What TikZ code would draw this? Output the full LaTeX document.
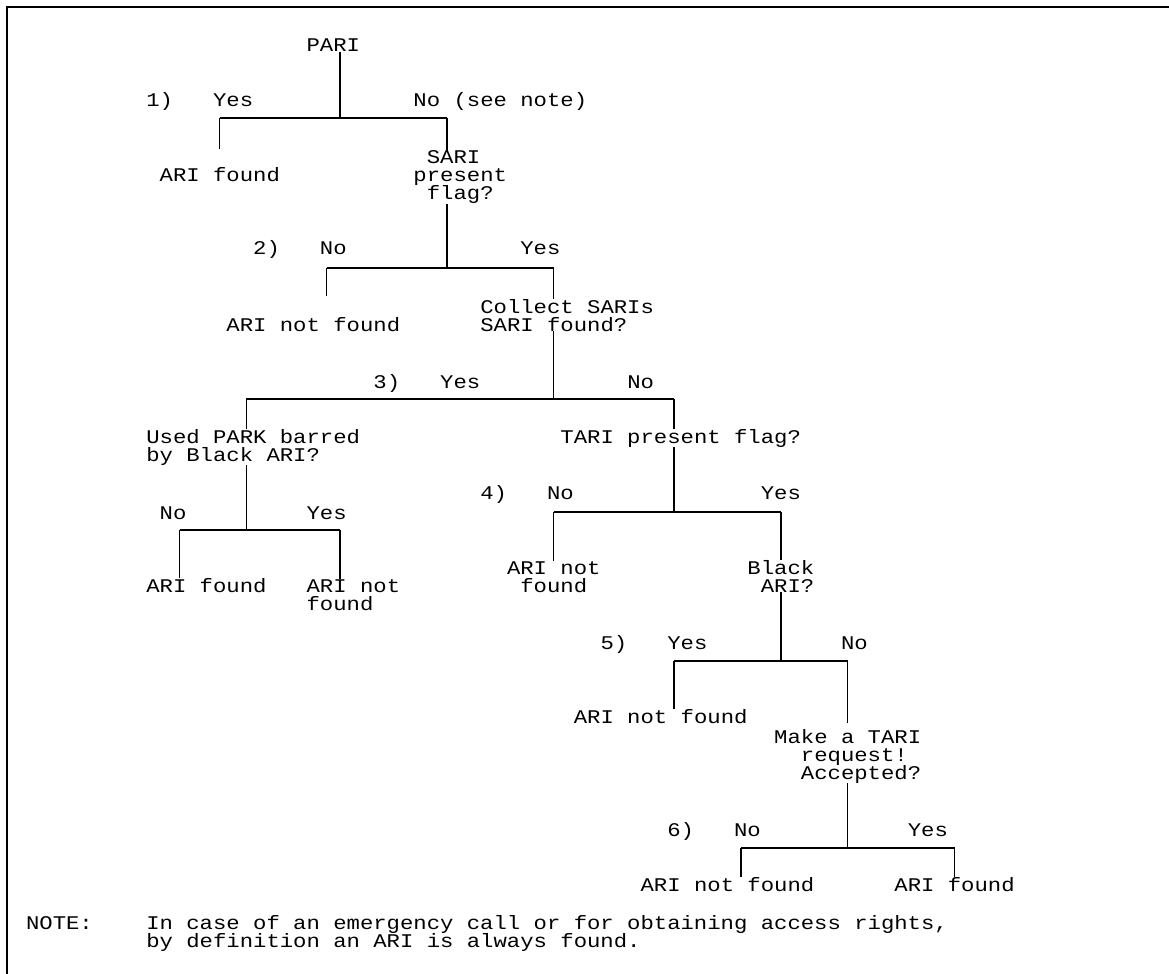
\documentclass[tikz,border=0pt]{standalone}
\usepackage{fontspec}
\setmonofont[FakeStretch=1.15]{Liberation Mono}
\newcommand\arifont{\ttfamily\fontsize{9.68}{9}\selectfont\lineskiplimit -20pt\relax}
\tikzset{
  txt/.style={font=\arifont, inner sep=0pt, outer sep=0pt, anchor=base west, align=left},
  tree/.style={line width=0.7pt},
  frame/.style={line width=0.9pt}
}
\begin{document}
\begin{tikzpicture}[x=6.68pt,y=-0.5pt]
\useasboundingbox (0,0) rectangle (87.5,974);
\draw[frame] (0.52,974) |- (87.5,7);
\begin{scope}[shift={(1.95,0)}]
% decisions and results (base = last line)
\node[txt] (pari) at (21,52) {PARI};
\node[txt] (found1) at (10,182) {ARI found};
\node[txt] (sariflag) at (29,200) {\ SARI\\present\\\ flag?};
\node[txt] (notfound2) at (15,331) {ARI not found};
\node[txt] (collect) at (34,331) {Collect SARIs\\SARI found?};
\node[txt] (parkbar) at (9,461) {Used PARK barred\\by Black ARI?};
\node[txt] (tariflag) at (40,443) {TARI present flag?};
\node[txt] (foundp) at (9,592) {ARI found};
\node[txt] (notfoundp) at (21,610) {ARI not\\found};
\node[txt] (notfound4) at (36,592) {ARI not\\\ found};
\node[txt] (blackari) at (54,592) {Black\\\ ARI?};
\node[txt] (notfound5) at (41,723) {ARI not found};
\node[txt] (tarireq) at (56,779) {Make a TARI\\\ \ request!\\\ \ Accepted?};
\node[txt] (notfound6) at (46,891) {ARI not found};
\node[txt] (found6) at (65,891) {ARI found};
\node[txt] (note) at (0,929) {NOTE:};
\node[txt] (notetext) at (9,947) {In case of an emergency call or for obtaining access rights,\\by definition an ARI is always found.};
% branch labels
\foreach \name/\c/\y/\t in {num1/9/107/1), yes1/14/107/Yes, no1/29/107/{No (see note)},
    num2/17/255/2), no2/22/255/No, yes2/37/255/Yes,
    num3/26/388/3), yes3/31/388/Yes, no3/45/388/No,
    nop/10/519/No, yesp/21/519/Yes,
    num4/34/499/4), no4/39/499/No, yes4/55/499/Yes,
    num5/43/649/5), yes5/48/649/Yes, no5/61/649/No,
    num6/48/836/6), no6/53/836/No, yes6/66/836/Yes}
  \node[txt] (\name) at (\c,\y) {\t};
% tree lines
\coordinate (j1) at (23.5,118); \coordinate (a1) at (14.5,118); \coordinate (b1) at (31.5,118);
\coordinate (e1) at (14.5,149);
\draw[tree] (pari.south -| j1) -- (j1) (a1) -- (b1) (a1) -- (e1) (b1) -- (sariflag.north -| b1);
\coordinate (j2) at (31.5,268); \coordinate (a2) at (22.5,268); \coordinate (b2) at (39.5,268);
\coordinate (e2) at (22.5,296);
\draw[tree] (sariflag.south -| j2) -- (j2) (a2) -- (b2) (a2) -- (e2) (b2) -- (collect.north -| b2);
\coordinate (j3) at (39.5,399); \coordinate (a3) at (16.5,399); \coordinate (b3) at (48.5,399);
\draw[tree] (collect.south -| j3) -- (j3) (a3) -- (b3) (a3) -- (parkbar.north -| a3) (b3) -- (tariflag.north -| b3);
\coordinate (jp) at (16.5,530); \coordinate (ap) at (11.5,530); \coordinate (bp) at (23.5,530);
\draw[tree] (parkbar.south -| jp) -- (jp) (ap) -- (bp) (ap) -- (foundp.north -| ap) (bp) -- (notfoundp.north -| bp);
\coordinate (j4) at (48.5,512); \coordinate (a4) at (39.5,512); \coordinate (b4) at (56.5,512);
\draw[tree] (tariflag.south -| j4) -- (j4) (a4) -- (b4) (a4) -- (notfound4.north -| a4) (b4) -- (blackari.north -| b4);
\coordinate (j5) at (56.5,661); \coordinate (a5) at (48.5,661); \coordinate (b5) at (61.5,661);
\coordinate (e5) at (61.5,723);
\draw[tree] (blackari.south -| j5) -- (j5) (a5) -- (b5) (a5) -- (notfound5.north -| a5) (b5) -- (e5);
\coordinate (j6) at (61.5,848); \coordinate (a6) at (53.5,848); \coordinate (b6) at (69.5,848);
\draw[tree] (tarireq.south -| j6) -- (j6) (a6) -- (b6) (a6) -- (notfound6.north -| a6) (b6) -- (found6.north -| b6);
\end{scope}
\end{tikzpicture}
\end{document}
